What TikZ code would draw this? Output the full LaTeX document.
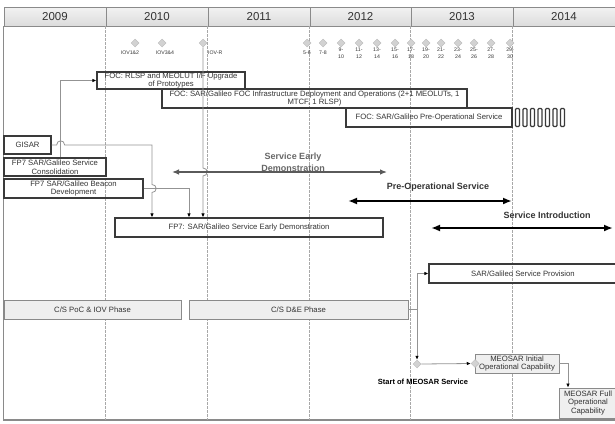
\documentclass[tikz,border=0pt]{standalone}
\usepackage{fontspec}
\setmainfont{Liberation Sans}
\usetikzlibrary{arrows.meta,shapes.geometric,calc}
\definecolor{hdrtop}{HTML}{F2F2F2}
\definecolor{hdrbot}{HTML}{DCDCDC}
\definecolor{framec}{HTML}{8A8A8A}
\definecolor{boxc}{HTML}{3A3A3A}
\definecolor{linec}{HTML}{939393}
\definecolor{dashc}{HTML}{A8A8A8}
\definecolor{phasefill}{HTML}{EFEFEF}
\definecolor{txtc}{HTML}{333333}
\definecolor{msfill}{HTML}{D2D2D2}
\definecolor{msdraw}{HTML}{BDBDBD}
\definecolor{sedc}{HTML}{5A5A5A}
\definecolor{sedtxt}{HTML}{666666}
\newcommand\bxfont{\fontsize{7.7}{8.7}\selectfont}
\newcommand\msfont{\fontsize{5.2}{7.5}\selectfont}
\begin{document}
\begin{tikzpicture}[x=1pt,y=-1pt,
  yr/.style={draw=framec, line width=0.8pt, top color=hdrtop, bottom color=hdrbot, minimum height=19pt, inner sep=0pt, font=\fontsize{11.5}{12}\selectfont, text=txtc},
  wbox/.style={draw=boxc, line width=1.3pt, inner sep=0pt, align=center, font=\bxfont, text=txtc},
  pbox/.style={draw=framec, line width=0.9pt, fill=phasefill, inner sep=0pt, align=center, font=\bxfont, text=txtc},
  ms/.style={diamond, fill=msfill, draw=msdraw, line width=0.5pt, minimum width=8pt, minimum height=8pt, inner sep=0pt},
  mslab/.style={font=\msfont, text=txtc, align=center, inner sep=0pt},
  conn/.style={draw=linec, line width=0.8pt, -{Latex[length=4pt,width=3.6pt,color=black]}},
  cline/.style={draw=linec, line width=0.8pt},
  dline/.style={draw=dashc, line width=0.9pt, dash pattern=on 2.5pt off 1.5pt},
  tickbox/.style={draw=boxc, line width=1.1pt, rounded corners=1pt, minimum width=4pt, minimum height=18pt, inner sep=0pt},
  phasespan/.style={line width=2pt, draw=black, {Latex[length=9pt,width=7pt]}-{Latex[length=9pt,width=7pt]}},
  sedspan/.style={line width=1.2pt, draw=sedc, {Latex[length=7pt,width=5.5pt]}-{Latex[length=7pt,width=5.5pt]}},
  biglab/.style={font=\fontsize{9}{12}\selectfont\bfseries, align=center, inner sep=0pt, text=txtc},
]
\useasboundingbox (0,0) rectangle (615,423);
\clip (0,0) rectangle (615,423);

% header
\node[yr, minimum width=102pt] (y2009) at (55,16.5) {2009};
\node[yr, minimum width=102pt] (y2010) at (157,16.5) {2010};
\node[yr, minimum width=102pt] (y2011) at (259,16.5) {2011};
\node[yr, minimum width=101pt] (y2012) at (360.5,16.5) {2012};
\node[yr, minimum width=102pt] (y2013) at (462,16.5) {2013};
\node[yr, minimum width=102pt] (y2014) at (564,16.5) {2014};

\coordinate (bot) at (0,420);
\coordinate (botR) at (620,420);
\draw[draw=framec, line width=1.2pt] (y2009.south west) -- (y2009.south west |- bot) -- (botR);
\foreach \n in {y2010,y2011,y2012,y2013,y2014}
  \draw[dline] (\n.south west) -- (\n.south west |- bot);

% filled boxes
\node[pbox, minimum width=177pt, minimum height=19pt] (poc) at (92.5,309.5) {C/S PoC \& IOV Phase};
\node[pbox, minimum width=219pt, minimum height=19pt] (dne) at (298.5,309.5) {C/S D\&E Phase};
\node[pbox, minimum width=84pt, minimum height=19pt] (ioc) at (517,363.5) {MEOSAR Initial\\Operational Capability};
\node[pbox, minimum width=58pt, minimum height=30pt] (foc) at (588,403) {MEOSAR Full\\Operational\\Capability};

% outlined boxes
\node[wbox, minimum width=148pt, minimum height=17pt] (rlsp) at (171,80.5) {FOC: RLSP and MEOLUT I/F Upgrade\\of Prototypes};
\node[wbox, minimum width=305pt, minimum height=19pt] (infra) at (314.5,98.5) {FOC: SAR/Galileo FOC Infrastructure Deployment and Operations (2+1 MEOLUTs, 1\\MTCF, 1 RLSP)};
\node[wbox, minimum width=166pt, minimum height=19pt] (preop) at (429,117.5) {FOC: SAR/Galileo Pre-Operational Service};
\node[wbox, minimum width=47pt, minimum height=18pt] (gisar) at (27.5,145) {GISAR};
\node[wbox, minimum width=102pt, minimum height=18pt] (consol) at (55,167) {FP7 SAR/Galileo Service\\Consolidation};
\node[wbox, minimum width=139pt, minimum height=19pt] (beacon) at (73.5,188.5) {FP7 SAR/Galileo Beacon\\Development};
\node[wbox, minimum width=268pt, minimum height=19pt] (early) at (249,227.5) {FP7: SAR/Galileo Service Early Demonstration};
\node[wbox, minimum width=188pt, minimum height=19pt] (prov) at (523,273.5) {SAR/Galileo Service Provision};
\foreach \i in {0,...,6}
  \node[tickbox] (tk\i) at (517.5+7.5*\i,117.5) {};

% milestones
\node[ms] (iov12) at (135,43) {};
\node[mslab] (iov12l) at (130,53) {IOV1\&2};
\node[ms] (iov34) at (162,43) {};
\node[mslab] (iov34l) at (165,53) {IOV3\&4};
\node[ms] (iovr) at (203,43) {};
\node[mslab, anchor=west] (iovrl) at (208,53) {IOV-R};
\foreach \x/\l [count=\i] in {307/5-6, 323/7-8, 341/{9-\\10}, 359/{11-\\12}, 377/{13-\\14}, 395/{15-\\16}, 411/{17-\\18}, 426/{19-\\20}, 441/{21-\\22}, 458/{23-\\24}, 474/{25-\\26}, 491/{27-\\28}, 510/{29-\\30}} {
  \node[ms] (m\i) at (\x,43) {};
  \node[mslab] (ml\i) at (\x,53) {\l};
}
\node[ms] (start) at (417,364) {};
\node[font=\fontsize{7.5}{9}\selectfont\bfseries, inner sep=0pt] (startlab) at (423,382) {Start of MEOSAR Service};
\node[ms] (iocms) at (475,363.5) {};

% helper coordinates
\coordinate (gx) at (152,0);
\coordinate (bx) at (189,0);
\coordinate (fx) at (568,0);
\coordinate (jn) at (417,309.5);
\coordinate (sedL) at (172,172);
\coordinate (sedR) at (387,172);
\coordinate (poL) at (348,201);
\coordinate (poR) at (512,201);
\coordinate (siL) at (431,228);
\coordinate (siR) at (613,228);

% connectors
\draw[conn] ([xshift=5pt]consol.north) |- (rlsp.west);
\draw[conn] (gisar.east) -- ++(5,0) .. controls +(0,-5.5) and +(0,-5.5) .. ++(8,0) -- (gisar.east -| gx) -- ($(gx |- beacon.east)+(0,-4)$) .. controls +(5.5,0) and +(5.5,0) .. ++(0,8) -- (early.north -| gx);
\draw[conn] (beacon.east) -| (early.north -| bx);
\draw[conn] (iovr.south) -- ($(iovr.south |- sedL)+(0,-4)$) .. controls +(5.5,0) and +(5.5,0) .. ++(0,8) -- (early.north -| iovr.south);
\draw[cline] (dne.east) -- (jn);
\draw[conn] (jn) |- (prov.west);
\draw[conn] (jn) -- (start.north);
\draw[conn] (start.east) -- (iocms.west);
\draw[conn] (ioc.east) -| (foc.north -| fx);

% spans
\draw[sedspan] (sedL) -- (sedR);
\node[biglab, text=sedtxt] (sedlab) at (293,162) {Service Early\\Demonstration};
\draw[phasespan] (poL) -- (poR);
\node[biglab] (polab) at (438,187) {Pre-Operational Service};
\draw[phasespan] (siL) -- (siR);
\node[biglab] (silab) at (547,215) {Service Introduction};
\end{tikzpicture}
\end{document}
